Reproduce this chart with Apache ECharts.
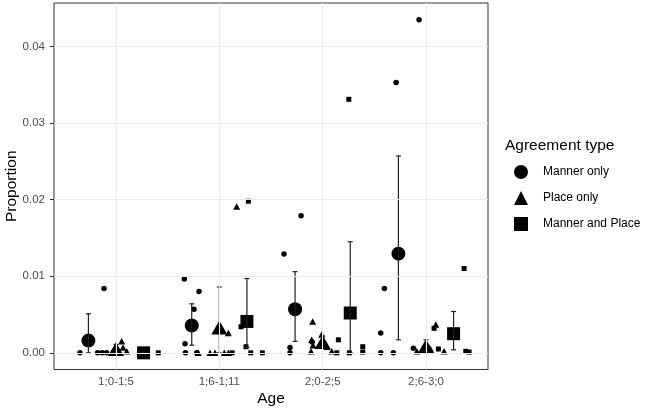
<!DOCTYPE html>
<html>
<head>
<meta charset="utf-8">
<title>Agreement type by age</title>
<script src="https://cdn.jsdelivr.net/npm/echarts@6.0.0/dist/echarts.min.js"></script>
</head>
<body style="margin:0;background:#fff">
<div id="main" style="width:651px;height:412px;"></div>
<script type="text/javascript">
var ageLabels = ['1;0-1;5', '1;6-1;11', '2;0-2;5', '2;6-3;0'];
var typeNames = ['Manner only', 'Place only', 'Manner and Place'];
var xTicks = [1, 2, 3, 4];
var yTicks = [0, 0.01, 0.02, 0.03, 0.04];
var yMinor = [0.005, 0.015, 0.025, 0.035, 0.045];

// single children: [age position with dodge + jitter, proportion]
var mannerPoints = [
    [0.651, 0], [0.884, 0.0084], [0.822, 0], [0.866, 0], [0.908, 0],
    [1.661, 0.00965], [1.803, 0.0080], [1.755, 0.0057], [1.668, 0.0012], [1.672, 0], [1.781, 0],
    [2.626, 0.0129], [2.791, 0.0179], [2.684, 0.0007], [2.684, 0], [2.897, 0.0014],
    [3.933, 0.0435], [3.711, 0.0353], [3.597, 0.0084], [3.562, 0.0026], [3.562, 0], [3.684, 0], [3.878, 0.0006]
];
var placePoints = [
    [1.055, 0.0015], [1.068, 0.0007], [1.104, 0.0002], [0.961, 0], [1.019, 0],
    [2.168, 0.0191], [2.087, 0.0026], [1.796, 0], [1.910, 0], [1.958, 0], [2.048, 0], [2.087, 0],
    [2.903, 0.0041], [2.887, 0.0002], [2.894, 0.0017], [2.907, 0.0010], [2.991, 0.0024], [3.088, 0.0002], [3.042, 0.0008],
    [4.095, 0.0037], [3.911, 0.0002], [4.175, 0.0002], [3.965, 0.0004], [4.043, 0.0005]
];
var bothPoints = [
    [1.409, 0], [1.232, 0], [1.300, 0],
    [2.281, 0.0198], [2.210, 0.0034], [2.258, 0.0008], [2.304, 0], [2.416, 0], [2.124, 0],
    [3.253, 0.0331], [3.152, 0.0017], [3.137, 0], [3.258, 0], [3.388, 0.0008], [3.388, 0.0001],
    [4.078, 0.0032], [4.120, 0.0005], [4.385, 0.0002], [4.417, 0.0001], [4.369, 0.0110]
];

// group means: [age position with dodge, mean, lower, upper]
var mannerMeans = [
    [0.733, 0.0016, 0, 0.0051],
    [1.733, 0.00356, 0.0010, 0.0064],
    [2.733, 0.0057, 0.0015, 0.0106],
    [3.733, 0.01295, 0.0017, 0.0257]
];
var placeMeans = [
    [1, 0.0005, 0, 0.0011],
    [2, 0.0033, 0, 0.0086],
    [3, 0.0014, 0.0007, 0.0022],
    [4, 0.0009, 0.0002, 0.0017]
];
var bothMeans = [
    [1.267, 0, 0, 0],
    [2.267, 0.0041, 0.0007, 0.0097],
    [3.267, 0.0052, 0, 0.0145],
    [4.267, 0.0025, 0.0004, 0.0054]
];

var font = 'Liberation Sans, Arial, sans-serif';
var myChart = echarts.init(document.getElementById('main'));

function errorBars(name, means) {
    return {
        name: name,
        type: 'custom',
        z: 4,
        silent: true,
        data: means.map(function (m) { return [m[0], m[2], m[3]]; }),
        renderItem: function (params, api) {
            var x = api.value(0);
            var lo = api.coord([x, api.value(1)]);
            var hi = api.coord([x, api.value(2)]);
            var w = 2.5;
            var st = { stroke: '#222', lineWidth: 1.2 };
            return {
                type: 'group',
                children: [
                    { type: 'line', shape: { x1: lo[0], y1: lo[1], x2: hi[0], y2: hi[1] }, style: st },
                    { type: 'line', shape: { x1: hi[0] - w, y1: hi[1], x2: hi[0] + w, y2: hi[1] }, style: st },
                    { type: 'line', shape: { x1: lo[0] - w, y1: lo[1], x2: lo[0] + w, y2: lo[1] }, style: st }
                ]
            };
        }
    };
}

function points(name, data, symbol, size, z) {
    return {
        name: name,
        type: 'scatter',
        symbol: symbol,
        symbolSize: size,
        z: z,
        itemStyle: { color: '#000', opacity: 1 },
        data: data
    };
}

var gridLines = [];
yTicks.forEach(function (v) { gridLines.push({ yAxis: v, lineStyle: { width: 1.1 } }); });
yMinor.forEach(function (v) { gridLines.push({ yAxis: v, lineStyle: { width: 0.6 } }); });
xTicks.forEach(function (v) { gridLines.push({ xAxis: v, lineStyle: { width: 1.1 } }); });

var option = {
    animation: false,
    textStyle: { fontFamily: font },
    title: {
        text: 'Agreement type',
        left: 505,
        top: 138,
        padding: 0,
        textStyle: { fontSize: 15.5, fontWeight: 'normal', color: '#000', fontFamily: font }
    },
    legend: {
        orient: 'vertical',
        left: 514,
        top: 165,
        padding: 0,
        itemWidth: 14,
        itemHeight: 14,
        itemGap: 12,
        selectedMode: false,
        data: [
            { name: typeNames[0], icon: 'circle' },
            { name: typeNames[1], icon: 'triangle' },
            { name: typeNames[2], icon: 'rect' }
        ],
        textStyle: { fontSize: 12, color: '#000', fontFamily: font, padding: [0, 0, 0, 10] }
    },
    grid: {
        left: 54, right: 163, top: 3, bottom: 42.5,
        containLabel: false,
        outerBoundsMode: 'none',
        show: true, borderColor: '#333', borderWidth: 1, backgroundColor: '#fff'
    },
    xAxis: {
        type: 'value',
        min: 0.4,
        max: 4.6,
        name: 'Age',
        nameLocation: 'middle',
        nameGap: 21,
        nameMoveOverlap: false,
        nameTextStyle: { fontSize: 15.5, color: '#000', fontFamily: font },
        axisLine: { show: false },
        splitLine: { show: false },
        axisTick: { show: true, customValues: xTicks, length: 4, lineStyle: { color: '#333' } },
        axisLabel: {
            customValues: xTicks,
            margin: 6,
            fontSize: 11.5,
            color: '#4d4d4d',
            fontFamily: font,
            formatter: function (v) { return ageLabels[Math.round(v) - 1]; }
        }
    },
    yAxis: {
        type: 'value',
        min: -0.002175,
        max: 0.045675,
        name: 'Proportion',
        nameLocation: 'middle',
        nameGap: 34,
        nameMoveOverlap: false,
        nameTextStyle: { fontSize: 15.5, color: '#000', fontFamily: font },
        axisLine: { show: false },
        splitLine: { show: false },
        axisTick: { show: true, customValues: yTicks, length: 4, lineStyle: { color: '#333' } },
        axisLabel: {
            customValues: yTicks,
            margin: 9,
            fontSize: 11.5,
            color: '#4d4d4d',
            fontFamily: font,
            formatter: function (v) { return v.toFixed(2); }
        }
    },
    series: [
        {
            type: 'scatter',
            data: [],
            silent: true,
            z: 0,
            markLine: {
                silent: true,
                symbol: 'none',
                animation: false,
                label: { show: false },
                lineStyle: { color: '#ebebeb', type: 'solid' },
                data: gridLines
            }
        },
        points(typeNames[0], mannerPoints, 'circle', 5.5, 2),
        points(typeNames[1], placePoints, 'triangle', [7, 6.5], 2),
        points(typeNames[2], bothPoints, 'rect', 5, 2),
        points(typeNames[0], mannerMeans.map(function (m) { return [m[0], m[1]]; }), 'circle', 14, 3),
        points(typeNames[1], placeMeans.map(function (m) { return [m[0], m[1]]; }), 'triangle', [16, 14], 3),
        points(typeNames[2], bothMeans.map(function (m) { return [m[0], m[1]]; }), 'rect', 13, 3),
        errorBars(typeNames[0], mannerMeans),
        errorBars(typeNames[1], placeMeans),
        errorBars(typeNames[2], bothMeans)
    ]
};

myChart.setOption(option);
</script>
</body>
</html>
